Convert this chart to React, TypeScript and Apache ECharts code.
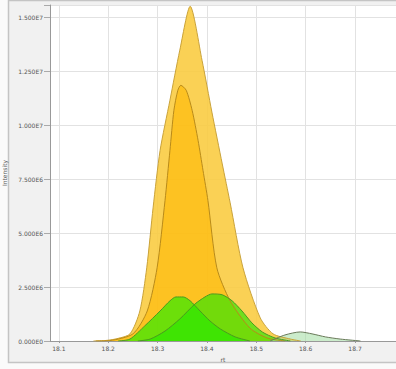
import React, { useEffect, useRef } from "react";
import * as echarts from "echarts";

// retention time (x) and intensity (y) for each trace
const seriesAx = [18.170, 18.193, 18.214, 18.244, 18.264, 18.278, 18.291, 18.305, 18.325, 18.345, 18.366, 18.390, 18.410, 18.431, 18.447, 18.473, 18.508, 18.534, 18.569, 18.590];
const seriesAy = [0, 0.02e6, 0.09e6, 0.33e6, 1.39e6, 3.39e6, 6.2e6, 8.82e6, 11.15e6, 13.47e6, 15.5e6, 13.0e6, 10.6e6, 8.2e6, 6.4e6, 3.39e6, 1.07e6, 0.33e6, 0.09e6, 0];

const seriesBx = [18.175, 18.203, 18.250, 18.279, 18.299, 18.315, 18.325, 18.333, 18.341, 18.347, 18.358, 18.370, 18.382, 18.392, 18.402, 18.420, 18.447, 18.487, 18.522, 18.558];
const seriesBy = [0, 0.02e6, 0.33e6, 1.39e6, 3.39e6, 6.5e6, 8.82e6, 10.68e6, 11.61e6, 11.84e6, 11.61e6, 10.68e6, 9.29e6, 7.9e6, 6.5e6, 3.39e6, 1.86e6, 0.6e6, 0.14e6, 0];

const seriesCx = [18.220, 18.244, 18.274, 18.305, 18.325, 18.337, 18.352, 18.366, 18.386, 18.406, 18.427, 18.457, 18.487];
const seriesCy = [0, 0.09e6, 0.7e6, 1.39e6, 1.86e6, 2.04e6, 2.04e6, 1.86e6, 1.39e6, 0.93e6, 0.56e6, 0.19e6, 0];

const seriesDx = [18.260, 18.285, 18.315, 18.345, 18.376, 18.396, 18.410, 18.431, 18.451, 18.471, 18.491, 18.512, 18.538, 18.569];
const seriesDy = [0, 0.09e6, 0.46e6, 1.02e6, 1.72e6, 2.04e6, 2.18e6, 2.14e6, 1.86e6, 1.39e6, 0.84e6, 0.42e6, 0.14e6, 0];

const seriesEx = [18.528, 18.558, 18.589, 18.613, 18.640, 18.670, 18.711];
const seriesEy = [0, 0.28e6, 0.42e6, 0.33e6, 0.19e6, 0.09e6, 0];

const xTicks = [18.1, 18.2, 18.3, 18.4, 18.5, 18.6, 18.7];
const yTicks = [0, 2.5e6, 5e6, 7.5e6, 10e6, 12.5e6, 15e6];

const zip = (xs: number[], ys: number[]) => xs.map((x, i) => [x, ys[i]]);

const fmtY = (v: number) => {
  if (v === 0) return "0.000E0";
  const e = Math.floor(Math.log10(v));
  return (v / Math.pow(10, e)).toFixed(3) + "E" + e;
};

export default function App() {
  const ref = useRef<HTMLDivElement>(null);
  useEffect(() => {
    if (!ref.current) return;
    const chart = echarts.init(ref.current, null, { renderer: "svg" });
    const area = (name: string, xs: number[], ys: number[], fill: string, stroke: string) => ({
      name,
      type: "line",
      data: zip(xs, ys),
      symbol: "none",
      smooth: 0.25,
      lineStyle: { color: stroke, width: 1 },
      areaStyle: { color: fill, opacity: 1 },
      z: 2,
    });
    chart.setOption({
      animation: false,
      backgroundColor: "#fafafa",
      textStyle: { fontFamily: "DejaVu Sans" },
      graphic: [
        {
          type: "rect",
          z: -10,
          silent: true,
          shape: { x: 8.5, y: 0.5, width: 400, height: 362 },
          style: { fill: "#f1f1f1", stroke: "#c4c4c4", lineWidth: 1.5 },
        },
      ],
      grid: {
        left: 50, right: 0, top: 5, bottom: 28,
        containLabel: false, outerBoundsMode: "none",
        show: true, backgroundColor: "#ffffff", borderWidth: 0,
      },
      xAxis: {
        type: "value",
        min: 18.082,
        max: 18.783,
        name: "rt",
        nameLocation: "middle",
        nameGap: 15,
        nameTextStyle: { fontSize: 6, color: "#555" },
        axisLine: { show: true, lineStyle: { color: "#999" } },
        axisTick: { show: true, length: 2, customValues: xTicks, lineStyle: { color: "#999" } },
        axisLabel: { fontSize: 6, color: "#555", margin: 4, customValues: xTicks, formatter: (v: number) => v.toFixed(1) },
        splitLine: { show: true, lineStyle: { color: "#e2e2e2", width: 1 } },
      },
      yAxis: {
        type: "value",
        min: 0,
        max: 15.56e6,
        interval: 2.5e6,
        name: "Intensity",
        nameLocation: "middle",
        nameGap: 32,
        nameTextStyle: { fontSize: 6, color: "#555" },
        axisLine: { show: true, lineStyle: { color: "#999" } },
        axisTick: { show: true, length: 6, lineStyle: { color: "#aaa" } },
        axisLabel: { fontSize: 6, color: "#555", margin: 7, formatter: (v: number) => (yTicks.indexOf(v) >= 0 ? fmtY(v) : "") },
        splitLine: { show: true, lineStyle: { color: "#e2e2e2", width: 1 } },
      },
      series: [
        area("A", seriesAx, seriesAy, "rgba(249,204,66,0.9)", "#c9a23a"),
        area("B", seriesBx, seriesBy, "rgba(255,184,0,0.6)", "#b88a1a"),
        area("C", seriesCx, seriesCy, "rgba(45,235,0,0.7)", "#4a9a20"),
        area("D", seriesDx, seriesDy, "rgba(40,230,0,0.65)", "#4a9a20"),
        area("E", seriesEx, seriesEy, "rgba(160,220,160,0.55)", "#6a7a5a"),
      ],
    });
    return () => chart.dispose();
  }, []);
  return <div ref={ref} style={{ position: "fixed", left: 0, top: 0, width: 396, height: 369 }} />;
}
